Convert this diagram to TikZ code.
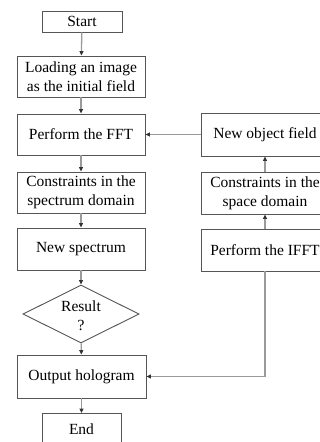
\documentclass[tikz,border=0pt]{standalone}
\usepackage{fontspec}
\setmainfont{Liberation Serif}
\usetikzlibrary{shapes.geometric,arrows.meta}
\definecolor{boxline}{HTML}{555555}
\definecolor{conn}{HTML}{9A9A9A}
\tikzset{
  box/.style={draw=boxline, line width=0.9pt, rectangle, inner sep=0pt, align=center, font=\fontsize{15.5}{19}\selectfont},
  conn/.style={draw=conn, line width=1.3pt, -{Triangle[length=4.5pt,width=4pt,color=black!80]}},
}
\begin{document}
\begin{tikzpicture}[x=1pt,y=-1pt]
\useasboundingbox (0,0) rectangle (320,442);
\clip (0,0) rectangle (320,442);
\fill[white] (0,0) rectangle (320,442);
\node[box, minimum width=80pt, minimum height=21pt] (start) at (82,21.5) {Start};
\node[box, minimum width=128pt, minimum height=41pt] (load) at (81,76.5) {Loading an image\\as the initial field};
\node[box, minimum width=128pt, minimum height=41pt] (fft) at (81,134.5) {Perform the FFT};
\node[box, minimum width=128pt, minimum height=41pt] (spec) at (81,192.5) {Constraints in the\\spectrum domain};
\node[box, minimum width=128pt, minimum height=42pt] (newspec) at (81,249) {New spectrum};
\node[box, shape=diamond, aspect=2, minimum width=116pt, minimum height=58pt] (res) at (81,314) {};
\node[font=\fontsize{15.5}{19}\selectfont, align=center, inner sep=0pt] (restext) at (81,316) {Result\\?};
\node[box, minimum width=129pt, minimum height=43pt] (out) at (81.5,376.5) {Output hologram};
\node[box, minimum width=79pt, minimum height=32pt, anchor=north] (end) at (81.5,413) {};
\node[font=\fontsize{15.5}{19}\selectfont, inner sep=0pt] (endtext) at (81.5,429) {End};
\node[box, minimum width=128pt, minimum height=43pt] (nof) at (265,134.5) {New object field};
\node[box, minimum width=128pt, minimum height=42pt] (space) at (265,193) {Constraints in the\\space domain};
\node[box, minimum width=128pt, minimum height=42pt] (ifft) at (265,250) {Perform the IFFT};
\draw[conn] (start) -- (load);
\draw[conn] (load) -- (fft);
\draw[conn] (fft) -- (spec);
\draw[conn] (spec) -- (newspec);
\draw[conn] (newspec) -- (res);
\draw[conn] (res) -- (out);
\draw[conn] (out) -- (end);
\draw[conn] (space) -- (nof);
\draw[conn] (ifft) -- (space);
\draw[conn] (nof) -- (fft);
\draw[conn] (ifft.south) |- (out.east);
\end{tikzpicture}
\end{document}
